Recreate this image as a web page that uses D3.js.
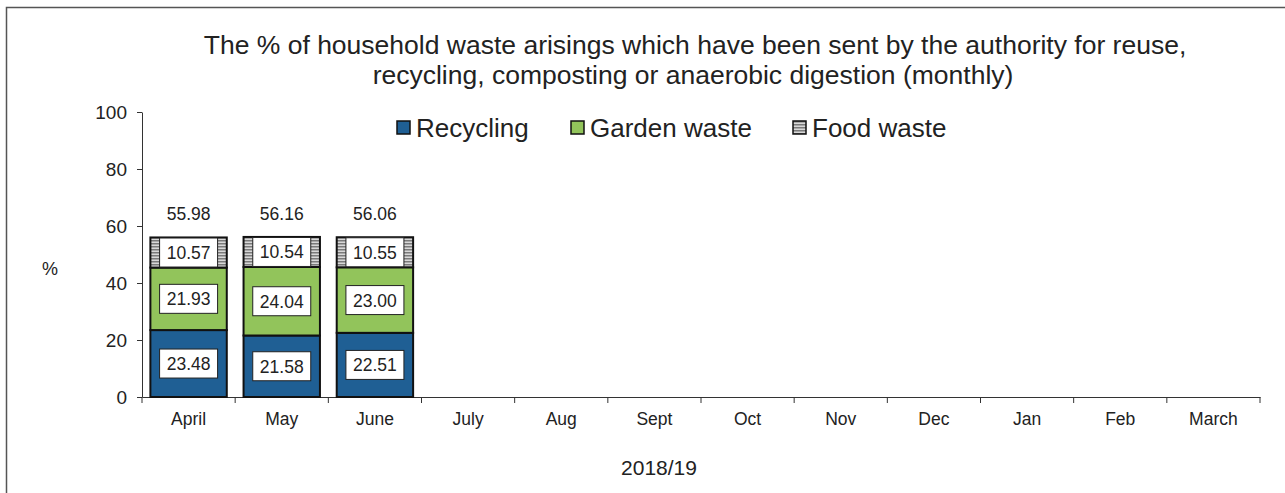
<!DOCTYPE html>
<html>
<head>
<meta charset="utf-8">
<script src="https://cdn.jsdelivr.net/npm/d3@7"></script>
<style>
body { margin: 0; background: #fff; }
svg text { font-family: "Liberation Sans", Arial, sans-serif; fill: #222; }
</style>
</head>
<body>
<svg width="1285" height="493"></svg>
<script>
// data
var months = ['April', 'May', 'June', 'July', 'Aug', 'Sept', 'Oct', 'Nov', 'Dec', 'Jan', 'Feb', 'March'];
var recycling = [23.48, 21.58, 22.51];
var garden = [21.93, 24.04, 23.00];
var food = [10.57, 10.54, 10.55];
var totals = [55.98, 56.16, 56.06];
var seriesNames = ['Recycling', 'Garden waste', 'Food waste'];
var yTicks = [0, 20, 40, 60, 80, 100];

var svg = d3.select('svg');

// food waste hatch
var defs = svg.append('defs');
var pat = defs.append('pattern').attr('id', 'foodpat').attr('width', 3).attr('height', 3).attr('patternUnits', 'userSpaceOnUse');
pat.append('rect').attr('width', 3).attr('height', 3).attr('fill', '#d8d8d8');
pat.append('rect').attr('width', 3).attr('height', 1.5).attr('fill', '#7a7a7a');

// outer frame
svg.append('rect').attr('x', 6.5).attr('y', 7.5).attr('width', 1300).attr('height', 500)
    .attr('fill', 'none').attr('stroke', '#555').attr('stroke-width', 1.5);

var x = d3.scaleBand().domain(months).range([142, 1260]).paddingInner(0.18).paddingOuter(0.09);
var y = d3.scaleLinear().domain([0, 100]).range([397, 112]);

// title
svg.append('text').attr('x', 695).attr('y', 54).attr('text-anchor', 'middle').attr('font-size', 26.5)
    .text('The % of household waste arisings which have been sent by the authority for reuse,');
svg.append('text').attr('x', 693).attr('y', 84).attr('text-anchor', 'middle').attr('font-size', 26.5)
    .text('recycling, composting or anaerobic digestion (monthly)');

// y axis
var yAxis = svg.append('g').attr('transform', 'translate(142,0)')
    .call(d3.axisLeft(y).tickValues(yTicks).tickSize(5).tickSizeOuter(0).tickPadding(10));
yAxis.select('.domain').attr('stroke', '#333');
yAxis.selectAll('.tick line').attr('stroke', '#333');
yAxis.selectAll('.tick text').attr('font-size', 19).attr('fill', '#222');

svg.append('text').attr('x', 50).attr('y', 275).attr('text-anchor', 'middle').attr('font-size', 18).text('%');

// x axis
var xAxis = svg.append('g').attr('transform', 'translate(0,397)')
    .call(d3.axisBottom(x).tickSize(0).tickSizeOuter(0).tickPadding(16));
xAxis.select('.domain').attr('stroke', '#333');
xAxis.selectAll('.tick text').attr('font-size', 17.5).attr('fill', '#222');
var step = x.step();
svg.append('g').selectAll('line').data(d3.range(months.length + 1)).join('line')
    .attr('x1', function (i) { return 142 + i * step; })
    .attr('x2', function (i) { return 142 + i * step; })
    .attr('y1', 397).attr('y2', 403).attr('stroke', '#333');

svg.append('text').attr('x', 659).attr('y', 475).attr('text-anchor', 'middle').attr('font-size', 21).text('2018/19');

// stacked bars
var rows = recycling.map(function (r, i) {
    return { month: months[i], Recycling: r, 'Garden waste': garden[i], 'Food waste': food[i], total: totals[i] };
});
var stack = d3.stack().keys(seriesNames)(rows);
var fills = { 'Recycling': '#1f5f94', 'Garden waste': '#92c45b', 'Food waste': 'url(#foodpat)' };

var layers = svg.append('g').selectAll('g').data(stack).join('g');
layers.selectAll('rect').data(function (d) { return d; }).join('rect')
    .attr('x', function (d) { return x(d.data.month); })
    .attr('width', x.bandwidth())
    .attr('y', function (d) { return y(d[1]); })
    .attr('height', function (d) { return y(d[0]) - y(d[1]); })
    .attr('fill', function (d, i, n) { return fills[d3.select(n[i].parentNode).datum().key]; })
    .attr('stroke', '#111').attr('stroke-width', 2);

// value boxes
var boxW = 58, boxH = 29;
stack.forEach(function (layer) {
    layer.forEach(function (d) {
        var cx = x(d.data.month) + x.bandwidth() / 2;
        var cy = (y(d[0]) + y(d[1])) / 2;
        svg.append('rect').attr('x', cx - boxW / 2).attr('y', cy - boxH / 2).attr('width', boxW).attr('height', boxH)
            .attr('fill', '#fff').attr('stroke', '#222').attr('stroke-width', 1);
        svg.append('text').attr('x', cx).attr('y', cy + 6.5).attr('text-anchor', 'middle').attr('font-size', 17.5)
            .text((d[1] - d[0]).toFixed(2));
    });
});

// totals
svg.append('g').selectAll('text').data(rows).join('text')
    .attr('x', function (d) { return x(d.month) + x.bandwidth() / 2; })
    .attr('y', function (d) { return y(d.total) - 17; })
    .attr('text-anchor', 'middle').attr('font-size', 17.5)
    .text(function (d) { return d.total.toFixed(2); });

// legend
var legendX = [397, 571, 793];
var leg = svg.append('g').selectAll('g').data(seriesNames).join('g')
    .attr('transform', function (d, i) { return 'translate(' + legendX[i] + ',121)'; });
leg.append('rect').attr('width', 13).attr('height', 13)
    .attr('fill', function (d) { return fills[d]; }).attr('stroke', '#111').attr('stroke-width', 1.5);
leg.append('text').attr('x', 19).attr('y', 16).attr('font-size', 26).text(function (d) { return d; });
</script>
</body>
</html>
